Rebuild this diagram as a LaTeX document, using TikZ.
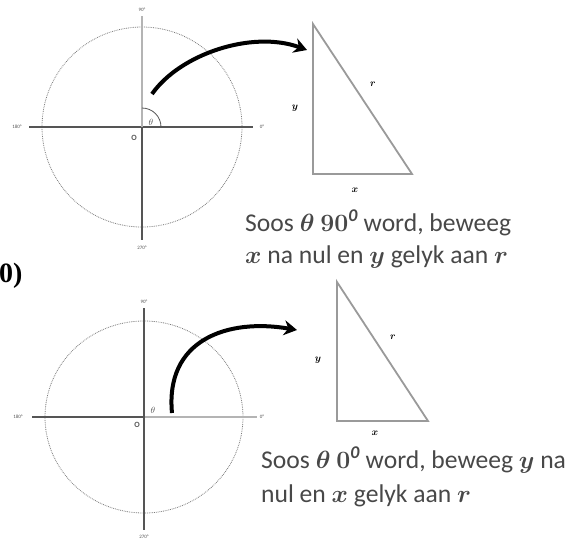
\documentclass[tikz,border=0pt]{standalone}
\usepackage{amsmath,bm}
\usepackage{fontspec}
\setmainfont{Carlito}
\newfontfamily\headfont{Liberation Serif}
\usetikzlibrary{arrows.meta}
\definecolor{axisgray}{HTML}{555555}
\definecolor{lightaxis}{HTML}{B4B4B4}
\definecolor{dotgray}{HTML}{7A7A7A}
\definecolor{trigray}{HTML}{9A9A9A}
\definecolor{textgray}{HTML}{484848}
\begin{document}
\begin{tikzpicture}[x=1pt,y=-1pt,
  axis/.style={draw=axisgray,line width=1.3pt},
  radiusline/.style={draw=lightaxis,line width=1.3pt},
  unitcircle/.style={draw=dotgray,densely dotted,line width=0.8pt},
  deglabel/.style={font=\fontsize{5}{6}\selectfont,text=axisgray,inner sep=0pt},
  smalllabel/.style={font=\fontsize{8}{9}\selectfont,text=axisgray,inner sep=0pt},
  triside/.style={draw=trigray,line width=1.8pt,line join=miter},
  sidelabel/.style={font=\fontsize{10}{12}\selectfont\boldmath,inner sep=0pt},
  bigarrow/.style={line width=4pt,-{Stealth[length=13pt,width=15pt]}},
  caption/.style={anchor=base west,inner sep=0pt,text=textgray,font=\fontsize{25.6}{30}\selectfont}]
\useasboundingbox (0,0) rectangle (574,542);
% left edge of a cut heading
\node[anchor=west,inner sep=0pt,font=\headfont\bfseries\fontsize{28}{32}\selectfont] (cut) at (-1,276) {0)};
% theta -> 90
\begin{scope}[shift={(142,127)}]
  \draw[unitcircle] (0,0) circle (100);
  \draw[axis] (-113,0) -- (111,0);
  \draw[axis] (0,0) -- (0,113);
  \draw[radiusline] (0,-111) -- (0,0);
  \draw[draw=axisgray,line width=0.8pt] (19,0) arc[start angle=0,end angle=-90,radius=19];
  \node[smalllabel,font=\fontsize{9}{10}\selectfont] (theta1) at (9,-5) {$\theta$};
  \node[smalllabel] (o1) at (-8,11) {\textbf{O}};
  \foreach \lab/\px/\py in {0/120/0,90/0/-117,180/-125/0,270/0/121}
    \node[deglabel] (deg1-\lab) at (\px,\py) {\lab°};
  \coordinate (start1) at (10,-33);
\end{scope}
\coordinate (tip1) at (307,50);
\draw[bigarrow] (start1) .. controls +(28,-40) and +(-55,-20) .. (tip1);
\coordinate (A1) at (313,24);
\coordinate (B1) at (313,174);
\coordinate (C1) at (412,174);
\draw[triside] (A1) -- (B1) -- (C1) -- cycle;
\node[sidelabel] (r1) at (373,84) {$r$};
\node[sidelabel] (y1) at (295,108) {$y$};
\node[sidelabel] (x1) at (355,190) {$x$};
\node[caption] (capA1) at (245,231) {Soos {\boldmath$\theta$ $90^{\mathit{0}}$} word, beweeg};
\node[caption] (capA2) at (245,263) {{\boldmath$x$} na nul en {\boldmath$y$} gelyk aan {\boldmath$r$}};
% theta -> 0
\begin{scope}[shift={(144,417)}]
  \draw[unitcircle] (0,0) ellipse [x radius=99,y radius=96];
  \draw[axis] (-112,0) -- (0,0);
  \draw[radiusline] (0,0) -- (113,0);
  \draw[axis] (0,-109) -- (0,113);
  \node[smalllabel,font=\fontsize{9}{10}\selectfont] (theta2) at (9,-7) {$\theta$};
  \node[smalllabel] (o2) at (-7,8) {\textbf{O}};
  \foreach \lab/\px/\py in {0/118/0,90/0/-115,180/-126/0,270/0/120}
    \node[deglabel] (deg2-\lab) at (\px,\py) {\lab°};
  \coordinate (start2) at (28,-4);
\end{scope}
\coordinate (tip2) at (297,330);
\draw[bigarrow] (start2) .. controls +(-7,-73) and +(-70,-12) .. (tip2);
\coordinate (A2) at (337,282);
\coordinate (B2) at (337,421);
\coordinate (C2) at (428,421);
\draw[triside] (A2) -- (B2) -- (C2) -- cycle;
\node[sidelabel] (r2) at (393,337) {$r$};
\node[sidelabel] (y2) at (318,360) {$y$};
\node[sidelabel] (x2) at (375,433) {$x$};
\node[caption] (capB1) at (261,468) {Soos {\boldmath$\theta$ $0^{\mathit{0}}$} word, beweeg {\boldmath$y$} na};
\node[caption] (capB2) at (261,502) {nul en {\boldmath$x$} gelyk aan {\boldmath$r$}};
\end{tikzpicture}
\end{document}
